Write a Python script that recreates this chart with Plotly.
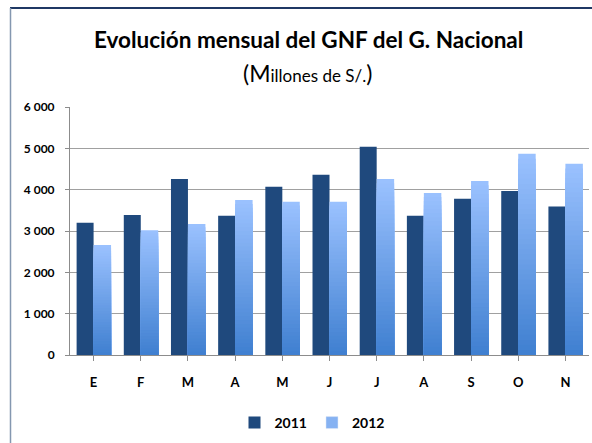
import numpy as np
import plotly.graph_objects as go

months = ["E", "F", "M", "A", "M", "J", "J", "A", "S", "O", "N"]
v2011 = [3200, 3390, 4260, 3370, 4070, 4360, 5040, 3370, 3780, 3970, 3590]
v2012 = [2660, 3020, 3170, 3750, 3710, 3710, 4260, 3920, 4210, 4870, 4630]
ytickvals = [0, 1000, 2000, 3000, 4000, 5000, 6000]
yticktext = ["0", "1 000", "2 000", "3 000", "4 000", "5 000", "6 000"]

W, H = 592, 443
L, R, T, B = 70, 3, 107, 88
pw, ph = W - L - R, H - T - B
xpos = list(range(len(months)))

def px(x):
    return (x - L) / pw

def py(y):
    return (H - B - y) / ph

fig = go.Figure()
fig.add_trace(go.Bar(x=xpos, y=v2011, name="2011", marker=dict(color="#1F497D", line_width=0),
                     width=0.36, offset=-0.36))

N = 40
top = np.array([0x9B, 0xC2, 0xFF])
bot = np.array([0x3F, 0x7F, 0xD0])
v12 = np.array(v2012, dtype=float)
for k in range(N, 0, -1):
    t = (k - 0.5) / N
    c = bot + (top - bot) * t
    col = "rgb(%d,%d,%d)" % tuple(c.round().astype(int))
    fig.add_trace(go.Bar(x=xpos, y=v12 * k / N, name="2012",
                         marker=dict(color=col, line_width=0),
                         width=0.37, offset=0.0,
                         showlegend=False, hoverinfo="skip"))
fig.add_trace(go.Bar(x=[None], y=[None], name="2012", marker=dict(color="#86B2F2"), showlegend=True))

fig.update_layout(
    width=W, height=H, margin=dict(l=L, r=R, t=T, b=B),
    paper_bgcolor="white", plot_bgcolor="white",
    barmode="overlay",
    font=dict(family="Lato", color="black"),
    showlegend=True,
    legend=dict(orientation="h", x=px(312), xanchor="center", y=py(423), yanchor="middle",
                font=dict(size=14, family="Lato", color="black", weight="bold"),
                itemwidth=30, traceorder="normal", tracegroupgap=0),
    xaxis=dict(tickmode="array", tickvals=xpos, ticktext=months, range=[-0.5, len(months) - 0.5],
               showgrid=False, showline=True, linecolor="#8C8C8C", linewidth=1,
               ticks="outside", ticklen=5, tickcolor="#8C8C8C", ticklabelstandoff=10,
               tickfont=dict(size=13, family="Lato", color="black", weight="bold")),
    yaxis=dict(range=[0, 6000], tickmode="array", tickvals=ytickvals, ticktext=yticktext,
               showgrid=True, gridcolor="#A0A0A0", gridwidth=1.3,
               showline=True, linecolor="#8C8C8C", linewidth=1,
               ticks="outside", ticklen=4, tickcolor="#8C8C8C", ticklabelstandoff=8,
               tickfont=dict(size=12, family="Lato", color="black", weight="bold"),
               zeroline=False),
    annotations=[
        dict(text="<b>Evolución mensual del GNF del G. Nacional</b>", x=px(308), y=py(40),
             xref="paper", yref="paper", showarrow=False, xanchor="center", yanchor="middle",
             font=dict(size=22.5, family="Lato", color="black")),
        dict(text="<span style='font-size:23px'>(M</span>illones de S/.<span style='font-size:23px'>)</span>",
             x=px(307), y=py(73), xref="paper", yref="paper", showarrow=False,
             xanchor="center", yanchor="middle", font=dict(size=17, family="Lato", color="black")),
    ],
    shapes=[
        dict(type="line", xref="paper", yref="paper", x0=px(10), x1=px(592), y0=py(8), y1=py(8),
             line=dict(color="#1F3864", width=2)),
        dict(type="line", xref="paper", yref="paper", x0=px(10.5), x1=px(10.5), y0=py(8), y1=py(443),
             line=dict(color="#8497B0", width=1.5)),
    ],
)

fig.update_xaxes(tickson="boundaries")

fig.write_html("out.html", config={"displayModeBar": False},
               post_script="document.body.style.margin='0';document.body.style.overflow='hidden';")
